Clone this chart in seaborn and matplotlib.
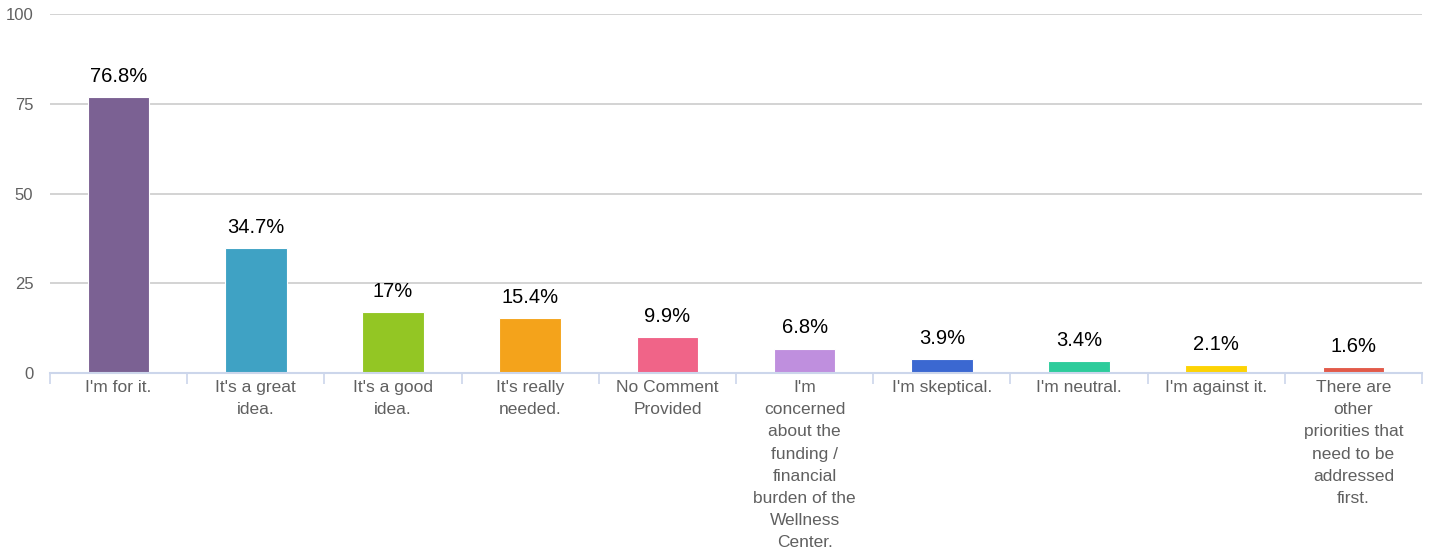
import matplotlib
matplotlib.use("Agg")
import matplotlib.pyplot as plt
import seaborn as sns
import pandas as pd

# data
categories = [
    "I'm for it.", "It's a great\nidea.", "It's a good\nidea.", "It's really\nneeded.",
    "No Comment\nProvided",
    "I'm\nconcerned\nabout the\nfunding /\nfinancial\nburden of the\nWellness\nCenter.",
    "I'm skeptical.", "I'm neutral.", "I'm against it.",
    "There are\nother\npriorities that\nneed to be\naddressed\nfirst.",
]
values = [76.8, 34.7, 17, 15.4, 9.9, 6.8, 3.9, 3.4, 2.1, 1.6]
value_labels = ["76.8%", "34.7%", "17%", "15.4%", "9.9%", "6.8%", "3.9%", "3.4%", "2.1%", "1.6%"]
colors = ["#7b6193", "#3fa2c4", "#93c624", "#f4a31b", "#f06488",
          "#bf8fde", "#3b68d1", "#2dcc9b", "#fdd304", "#e25a4a"]
yticks = [0, 25, 50, 75, 100]

sns.set_style("white")
plt.rcParams['font.family'] = ['Liberation Sans', 'DejaVu Sans']

df = pd.DataFrame({"cat": categories, "val": values})

fig = plt.figure(figsize=(14.34, 5.55), dpi=100)
ax = fig.add_axes([50 / 1434, 1 - 373 / 555, (1422 - 50) / 1434, (373 - 14) / 555])

sns.barplot(data=df, x="cat", y="val", hue="cat", palette=colors, legend=False,
            saturation=1, width=0.45, ax=ax, edgecolor="white", linewidth=0.8, zorder=3)

for i, (v, lab) in enumerate(zip(values, value_labels)):
    ax.annotate(lab, (i, v), xytext=(0, 8), textcoords="offset points",
                ha="center", va="bottom", fontsize=14.5, color="#000000")

ax.set_ylim(0, 100)
ax.set_xlim(-0.5, len(categories) - 0.5)
ax.set_yticks(yticks)
ax.yaxis.grid(True, color="#cccccc", linewidth=1.2, zorder=0)
ax.set_axisbelow(True)
ax.set_xlabel("")
ax.set_ylabel("")

for s in ["top", "right", "left"]:
    ax.spines[s].set_visible(False)
ax.spines["bottom"].set_color("#ccd6eb")
ax.spines["bottom"].set_linewidth(1.5)
ax.spines["bottom"].set_zorder(4)

# category labels without tick marks; tick marks sit between categories
ax.set_xticks(range(len(categories)))
ax.set_xticklabels(categories, va="top")
ax.set_xticks([i + 0.5 for i in range(-1, len(categories))], minor=True)
ax.tick_params(axis="x", which="major", bottom=True, length=0, pad=5,
               labelsize=12.5, labelcolor="#606060")
ax.tick_params(axis="x", which="minor", bottom=True, length=8, width=1.2, color="#ccd6eb")
ax.tick_params(axis="y", length=0, pad=12, labelsize=12, labelcolor="#606060")
for lab in ax.get_xticklabels():
    lab.set_linespacing(1.6)

fig.savefig("out.png", dpi=100)
